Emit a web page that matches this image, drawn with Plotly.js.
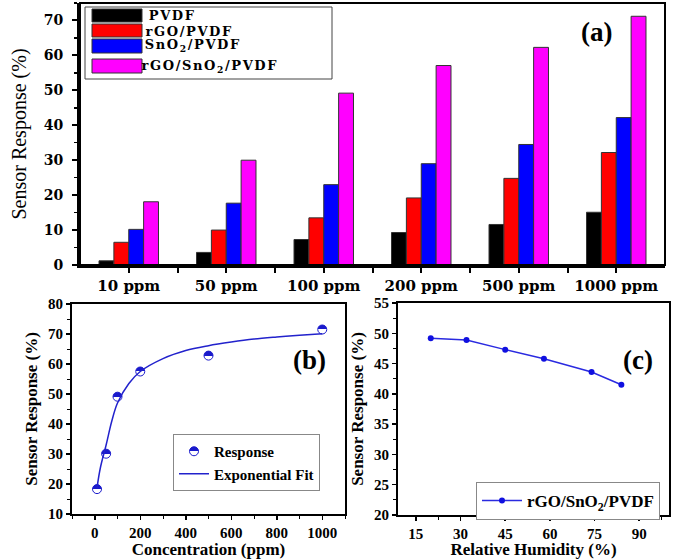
<!DOCTYPE html>
<html><head><meta charset="utf-8">
<script src="https://cdn.plot.ly/plotly-3.0.1.min.js"></script>
<style>html,body{margin:0;padding:0;background:#fff}</style>
</head><body><div id="chart" style="width:673px;height:559px"></div>
<script>
// ---- Panel (a) data ----
const concentrations = ['10 ppm', '50 ppm', '100 ppm', '200 ppm', '500 ppm', '1000 ppm'];
const seriesNames = ['PVDF', 'rGO/PVDF', 'SnO<sub>2</sub>/PVDF', 'rGO/SnO<sub>2</sub>/PVDF'];
const pvdf = [1.2, 3.6, 7.3, 9.3, 11.6, 15.1];
const rgoPvdf = [6.5, 10.0, 13.5, 19.2, 24.8, 32.2];
const sno2Pvdf = [10.2, 17.7, 23.0, 29.0, 34.5, 42.2];
const rgoSno2Pvdf = [18.1, 30.0, 49.2, 57.1, 62.3, 71.2];
const seriesColors = ['#000000', '#ff0000', '#0000ff', '#ff00ff'];

// ---- Panel (b) data ----
const concPpm = [10, 50, 100, 200, 500, 1000];
const responseB = [18.3, 30.1, 49.1, 57.5, 62.8, 71.5];
const fitX = [10, 25, 50, 75, 100, 150, 200, 300, 400, 500, 600, 700, 800, 900, 1000];
const fitY = [18.8, 25.5, 33.0, 41.0, 47.0, 53.5, 57.5, 61.8, 64.5, 66.1, 67.3, 68.3, 69.0, 69.6, 70.1];

// ---- Panel (c) data ----
const humidity = [20, 32, 45, 58, 74, 84];
const responseC = [49.2, 48.9, 47.3, 45.8, 43.6, 41.5];

const W = 673, H = 559;
const px = v => v / W;
const py = v => 1 - v / H;

const serifBold = (size) => ({family: 'Liberation Serif', size: size, color: '#000', weight: 700});
const wideBold = (size) => ({family: 'DejaVu Serif', size: size, color: '#000', weight: 700});

const barSeries = [pvdf, rgoPvdf, sno2Pvdf, rgoSno2Pvdf];
const idx = concentrations.map((c, i) => i);

const traces = barSeries.map((vals, i) => ({
  type: 'bar', x: idx, y: vals, name: seriesNames[i], showlegend: false,
  marker: {color: seriesColors[i], line: {color: '#333', width: 1}},
  xaxis: 'x', yaxis: 'y', hoverinfo: 'skip'
}));

traces.push({
  type: 'scatter', mode: 'markers', x: concPpm, y: responseB, name: 'Response',
  xaxis: 'x2', yaxis: 'y2', legend: 'legend2',
  marker: {symbol: 'circle', size: 9, color: '#1a1acc', gradient: {type: 'vertical', color: '#ffffff'}, line: {color: '#1a1acc', width: 1}}
});
traces.push({
  type: 'scatter', mode: 'lines', x: fitX, y: fitY, name: 'Exponential Fit',
  xaxis: 'x2', yaxis: 'y2', legend: 'legend2',
  line: {color: '#2222cc', width: 1.5, shape: 'spline'}
});
traces.push({
  type: 'scatter', mode: 'lines+markers', x: humidity, y: responseC, name: 'rGO/SnO<sub>2</sub>/PVDF',
  xaxis: 'x3', yaxis: 'y3', legend: 'legend3',
  line: {color: '#2a2ae0', width: 1.5}, marker: {color: '#1010e0', size: 6}
});

const shapes = [
  {type: 'rect', xref: 'x domain', yref: 'y domain', x0: 0, x1: 1, y0: 0, y1: 1, line: {color: '#000', width: 2}},
  // custom legend box for (a)
  {type: 'rect', xref: 'paper', yref: 'paper', x0: px(85), x1: px(332), y0: py(79), y1: py(7), line: {color: '#444', width: 1}, fillcolor: 'rgba(255,255,255,0)'}
];
const swatchRows = [[9, 22], [24, 37], [39, 53], [59, 73]];
const textRows = [16, 31, 46, 66];
const annotations = [];
seriesNames.forEach((name, i) => {
  shapes.push({type: 'rect', xref: 'paper', yref: 'paper', x0: px(92), x1: px(142), y0: py(swatchRows[i][1]), y1: py(swatchRows[i][0]),
    fillcolor: seriesColors[i], line: {color: '#333', width: 1}});
  annotations.push({xref: 'paper', yref: 'paper', x: px(150), y: py(textRows[i]), xanchor: 'left', yanchor: 'middle',
    text: name, showarrow: false, font: wideBold(13)});
});
annotations.push({xref: 'paper', yref: 'paper', x: px(596), y: py(32), text: '(a)', showarrow: false, font: serifBold(27), xanchor: 'center', yanchor: 'middle'});
annotations.push({xref: 'paper', yref: 'paper', x: px(309), y: py(360), text: '(b)', showarrow: false, font: serifBold(27), xanchor: 'center', yanchor: 'middle'});
annotations.push({xref: 'paper', yref: 'paper', x: px(638), y: py(360), text: '(c)', showarrow: false, font: serifBold(27), xanchor: 'center', yanchor: 'middle'});

const commonAxis = {showgrid: false, zeroline: false, showline: true, linecolor: '#000', ticks: 'outside', tickcolor: '#000'};

const layout = {
  width: W, height: H, margin: {l: 0, r: 0, t: 0, b: 0},
  paper_bgcolor: '#fff', plot_bgcolor: 'rgba(0,0,0,0)',
  barmode: 'group', bargap: 0.39, bargroupgap: 0,
  xaxis: Object.assign({}, commonAxis, {
    domain: [px(80), px(665)], anchor: 'y', range: [-0.5, 5.5],
    tickmode: 'array', tickvals: idx, ticktext: concentrations,
    linewidth: 3, ticklen: 5, tickwidth: 2, tickfont: wideBold(15),
    minor: {tickmode: 'array', tickvals: idx.slice(1).map(i => i - 0.5), ticks: 'outside', ticklen: 5, tickwidth: 2, tickcolor: '#000'}
  }),
  yaxis: Object.assign({}, commonAxis, {
    domain: [py(265), py(3)], anchor: 'x', range: [0, 75], tick0: 0, dtick: 10,
    linewidth: 3, ticklen: 5, tickwidth: 2, tickfont: wideBold(14), ticklabelstandoff: 6,
    minor: {dtick: 5, ticks: 'outside', ticklen: 3, tickwidth: 1.5, tickcolor: '#000'},
    title: {text: 'Sensor Response (%)', font: {family: 'Liberation Serif', size: 20, color: '#000'}, standoff: 12}
  }),
  xaxis2: Object.assign({}, commonAxis, {
    domain: [px(72), px(345)], anchor: 'y2', range: [-100, 1100], tick0: 0, dtick: 200,
    mirror: true, linewidth: 2, ticklen: 4, tickwidth: 1.5, tickfont: serifBold(15),
    minor: {dtick: 100, ticks: 'outside', ticklen: 3, tickwidth: 1, tickcolor: '#000'},
    title: {text: 'Concentration (ppm)', font: serifBold(17), standoff: 8}
  }),
  yaxis2: Object.assign({}, commonAxis, {
    domain: [py(514), py(304)], anchor: 'x2', range: [10, 80], tick0: 10, dtick: 10,
    mirror: true, linewidth: 2, ticklen: 4, tickwidth: 1.5, tickfont: serifBold(15),
    minor: {dtick: 5, ticks: 'outside', ticklen: 3, tickwidth: 1, tickcolor: '#000'},
    title: {text: 'Sensor Response (%)', font: serifBold(17), standoff: 6}
  }),
  xaxis3: Object.assign({}, commonAxis, {
    domain: [px(398), px(669)], anchor: 'y3', range: [9, 100], tick0: 15, dtick: 15,
    mirror: true, linewidth: 2, ticklen: 4, tickwidth: 1.5, tickfont: serifBold(15),
    minor: {tick0: 15, dtick: 7.5, ticks: 'outside', ticklen: 3, tickwidth: 1, tickcolor: '#000'},
    title: {text: 'Relative Humidity (%)', font: serifBold(17), standoff: 8}
  }),
  yaxis3: Object.assign({}, commonAxis, {
    domain: [py(515), py(303)], anchor: 'x3', range: [20, 55], tick0: 20, dtick: 5,
    mirror: true, linewidth: 2, ticklen: 4, tickwidth: 1.5, tickfont: serifBold(15),
    minor: {dtick: 2.5, ticks: 'outside', ticklen: 3, tickwidth: 1, tickcolor: '#000'},
    title: {text: 'Sensor Response (%)', font: serifBold(17), standoff: 6}
  }),
  legend2: {x: px(173), y: py(434), xanchor: 'left', yanchor: 'top', bgcolor: '#fff', bordercolor: '#888', borderwidth: 1,
    font: serifBold(15), itemwidth: 30, tracegroupgap: 0},
  legend3: {x: px(476), y: py(482), xanchor: 'left', yanchor: 'top', bgcolor: '#fff', bordercolor: '#888', borderwidth: 1,
    font: serifBold(17), itemwidth: 40},
  shapes: shapes,
  annotations: annotations
};

Plotly.newPlot('chart', traces, layout, {displayModeBar: false, staticPlot: true}).then(gd => {
  // make the vertical gradient a sharp half-filled circle (top blue, bottom white)
  gd.querySelectorAll('linearGradient').forEach(g => {
    g.setAttribute('x1', '0'); g.setAttribute('x2', '0');
    g.setAttribute('y1', '0'); g.setAttribute('y2', '1');
    while (g.firstChild) g.removeChild(g.firstChild);
    [[0, '#1a1acc'], [0.5, '#1a1acc'], [0.5, '#ffffff'], [1, '#ffffff']].forEach(([o, c]) => {
      const s = document.createElementNS('http://www.w3.org/2000/svg', 'stop');
      s.setAttribute('offset', o); s.setAttribute('stop-color', c);
      g.appendChild(s);
    });
  });
  // widen the panel (a) legend labels like the reference
  const ann = gd.querySelectorAll('.annotation-text');
  for (let i = 0; i < seriesNames.length && i < ann.length; i++) {
    ann[i].style.letterSpacing = '1.6px';
  }
});
</script>
</body></html>
